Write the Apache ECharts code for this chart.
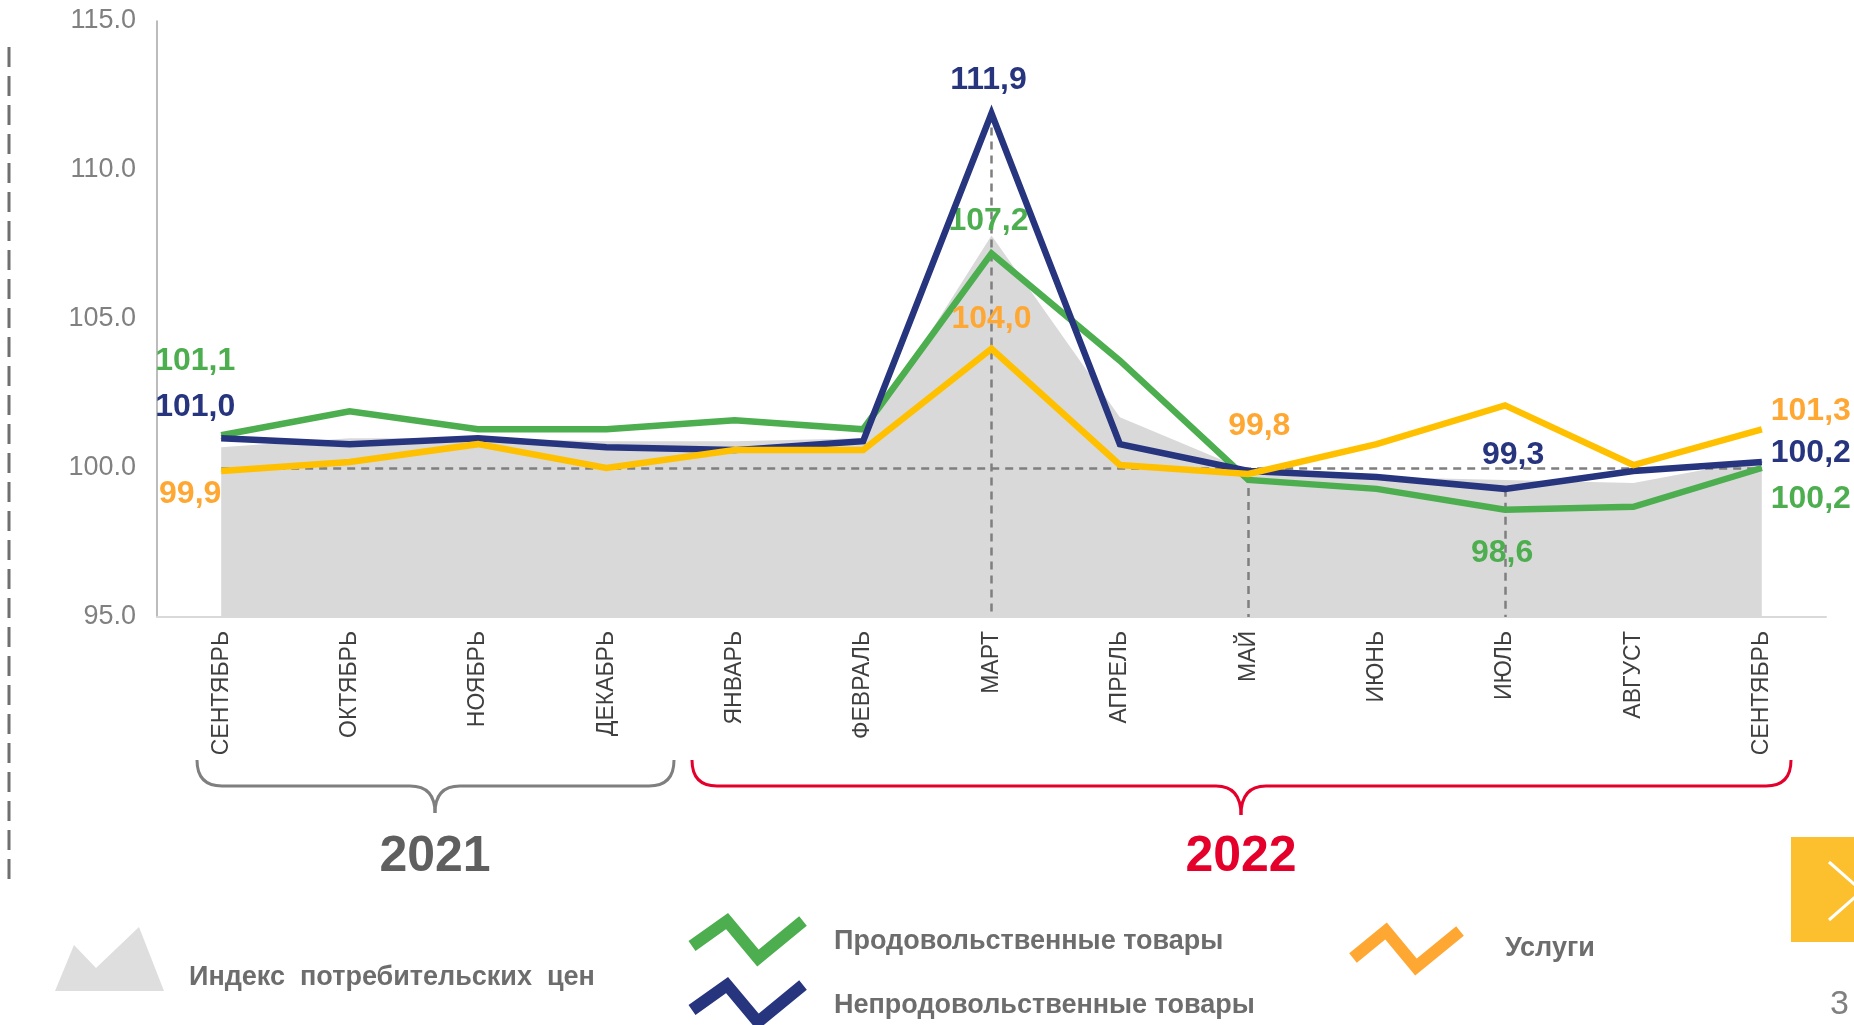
<!DOCTYPE html>
<html><head><meta charset="utf-8">
<script src="https://cdn.jsdelivr.net/npm/echarts@6/dist/echarts.min.js"></script>
<style>html,body{margin:0;padding:0;background:#fff;}#c{width:1854px;height:1025px;}</style>
</head><body><div id="c"></div>
<script>
// ---- data ----
const categories = ['СЕНТЯБРЬ','ОКТЯБРЬ','НОЯБРЬ','ДЕКАБРЬ','ЯНВАРЬ','ФЕВРАЛЬ','МАРТ','АПРЕЛЬ','МАЙ','ИЮНЬ','ИЮЛЬ','АВГУСТ','СЕНТЯБРЬ'];
const cpi      = [100.7, 101.0, 101.0, 100.9, 100.9, 101.0, 107.8, 101.7, 99.9, 99.7, 99.6, 99.5, 100.3];
const food     = [101.1, 101.9, 101.3, 101.3, 101.6, 101.3, 107.2, 103.6, 99.6, 99.3, 98.6, 98.7, 100.0];
const nonFood  = [101.0, 100.8, 101.0, 100.7, 100.6, 100.9, 111.9, 100.8, 99.9, 99.7, 99.3, 99.9, 100.2];
const services = [ 99.9, 100.2, 100.8, 100.0, 100.6, 100.6, 104.0, 100.1, 99.8, 100.8, 102.1, 100.1, 101.3];
const foodLabels     = {0:'101,1', 6:'107,2', 10:'98,6', 12:'100,2'};
const nonFoodLabels  = {0:'101,0', 6:'111,9', 10:'99,3', 12:'100,2'};
const servicesLabels = {0:'99,9', 6:'104,0', 8:'99,8', 12:'101,3'};
const yMin = 95, yMax = 115, yStep = 5;
const years = ['2021', '2022'];
const legendNames = ['Индекс  потребительских  цен', 'Продовольственные товары', 'Непродовольственные товары', 'Услуги'];
const pageNumber = '3';

// ---- styling ----
const FONT = '"Liberation Sans", Arial, sans-serif';
const C_GREEN = '#4DAE4F', C_NAVY = '#27357F', C_YELLOW = '#FFC000', C_ORANGE = '#FFA733', C_GRAY = '#D9D9D9';
const foodOff     = {0:[-26,-74], 6:[-3,-32], 10:[-3,43], 12:[49,31]};
const nonFoodOff  = {0:[-26,-31], 6:[-3,-33], 10:[8,-34], 12:[49,-9]};
const servicesOff = {0:[-31,23], 6:[0,-30], 8:[11,-48], 12:[49,-18]};

function build(values, labels, offs, color) {
  return values.map((v, i) => labels[i] ? {
    value: v,
    label: { show: true, position: 'inside', offset: offs[i], formatter: labels[i],
             color: color, fontSize: 32, fontWeight: 'bold', fontFamily: FONT }
  } : v);
}
function lineSeries(name, values, labels, offs, lineColor, labelColor, z) {
  return {
    name, type: 'line', data: build(values, labels, offs, labelColor), z,
    symbol: 'circle', symbolSize: 1, showSymbol: true,
    itemStyle: { color: lineColor },
    lineStyle: { color: lineColor, width: 6.5, join: 'miter' },
    emphasis: { disabled: true }, silent: true
  };
}
function brace(xl, xm, xr, yTop, yMid, yTip, color) {
  const r = 25, st = { stroke: color, lineWidth: 3, fill: null };
  return [
    { type: 'bezierCurve', shape: { x1: xl, y1: yTop, cpx1: xl, cpy1: yMid, x2: xl + r, y2: yMid }, style: st },
    { type: 'line', shape: { x1: xl + r, y1: yMid, x2: xm - r, y2: yMid }, style: st },
    { type: 'bezierCurve', shape: { x1: xm - r, y1: yMid, cpx1: xm, cpy1: yMid, x2: xm, y2: yTip }, style: st },
    { type: 'bezierCurve', shape: { x1: xm, y1: yTip, cpx1: xm, cpy1: yMid, x2: xm + r, y2: yMid }, style: st },
    { type: 'line', shape: { x1: xm + r, y1: yMid, x2: xr - r, y2: yMid }, style: st },
    { type: 'bezierCurve', shape: { x1: xr - r, y1: yMid, cpx1: xr, cpy1: yMid, x2: xr, y2: yTop }, style: st }
  ];
}

const chart = echarts.init(document.getElementById('c'), null, { renderer: 'canvas' });
const dash = { color: '#7F7F7F', type: [8, 6], width: 2.5 };
const LEG = 'bold 27px ' + FONT;
chart.setOption({
  animation: false,
  backgroundColor: '#fff',
  grid: { left: 157, right: 28, top: 21, bottom: 408, containLabel: false },
  xAxis: {
    type: 'category', data: categories, boundaryGap: true,
    axisLine: { lineStyle: { color: '#D9D9D9', width: 2 } },
    axisTick: { show: false },
    axisLabel: { rotate: 90, margin: 14, color: '#3F3F3F', fontSize: 23, fontFamily: FONT, interval: 0 }
  },
  yAxis: {
    type: 'value', min: yMin, max: yMax, interval: yStep,
    axisLine: { show: true, lineStyle: { color: '#A6A6A6', width: 1.5 } },
    axisTick: { show: false }, splitLine: { show: false },
    axisLabel: { margin: 21, color: '#808080', fontSize: 27, fontFamily: FONT, formatter: v => v.toFixed(1) }
  },
  series: [
    {
      name: legendNames[0], type: 'line', data: cpi, z: 1, symbol: 'none',
      lineStyle: { width: 0 }, areaStyle: { color: C_GRAY, opacity: 1 }, silent: true,
      markLine: {
        silent: true, symbol: 'none', z: 2, label: { show: false }, lineStyle: dash,
        data: [
          [{ coord: [0, 100] }, { coord: [categories.length - 1, 100] }],
          [{ coord: [6, nonFood[6]] }, { coord: [6, yMin] }],
          [{ coord: [8, services[8]] }, { coord: [8, yMin] }],
          [{ coord: [10, nonFood[10]] }, { coord: [10, yMin] }]
        ]
      }
    },
    lineSeries(legendNames[1], food, foodLabels, foodOff, C_GREEN, C_GREEN, 3),
    lineSeries(legendNames[2], nonFood, nonFoodLabels, nonFoodOff, C_NAVY, C_NAVY, 4),
    lineSeries(legendNames[3], services, servicesLabels, servicesOff, C_YELLOW, C_ORANGE, 5)
  ],
  graphic: [
    { type: 'line', shape: { x1: 9, y1: 47, x2: 9, y2: 881 }, style: { stroke: '#6F6F6F', lineWidth: 3, lineDash: [20, 9] } },
    ...brace(197, 435, 674, 760, 786, 813, '#7F7F7F'),
    ...brace(692, 1241, 1791, 760, 786, 815, '#E4002B'),
    { type: 'text', x: 435, y: 857, style: { text: years[0], fill: '#5F5F5F', font: 'bold 50px ' + FONT, textAlign: 'center', textVerticalAlign: 'middle' } },
    { type: 'text', x: 1241, y: 857, style: { text: years[1], fill: '#E4002B', font: 'bold 50px ' + FONT, textAlign: 'center', textVerticalAlign: 'middle' } },
    { type: 'polygon', shape: { points: [[55,991],[74,945],[96,968],[139,927],[164,991]] }, style: { fill: '#DEDEDE' } },
    { type: 'text', x: 189, y: 978, style: { text: legendNames[0], fill: '#6D6D6D', font: LEG, textVerticalAlign: 'middle' } },
    { type: 'polyline', shape: { points: [[692,946],[727,921],[758,958],[803,921]] }, style: { stroke: C_GREEN, lineWidth: 12, fill: null, lineJoin: 'miter' } },
    { type: 'text', x: 834, y: 942, style: { text: legendNames[1], fill: '#6D6D6D', font: LEG, textVerticalAlign: 'middle' } },
    { type: 'polyline', shape: { points: [[692,1010],[727,985],[758,1022],[803,985]] }, style: { stroke: C_NAVY, lineWidth: 12, fill: null, lineJoin: 'miter' } },
    { type: 'text', x: 834, y: 1006, style: { text: legendNames[2], fill: '#6D6D6D', font: LEG, textVerticalAlign: 'middle' } },
    { type: 'polyline', shape: { points: [[1353,958],[1386,931],[1416,967],[1460,931]] }, style: { stroke: C_ORANGE, lineWidth: 12, fill: null, lineJoin: 'miter' } },
    { type: 'text', x: 1505, y: 949, style: { text: legendNames[3], fill: '#6D6D6D', font: LEG, textVerticalAlign: 'middle' } },
    { type: 'rect', shape: { x: 1791, y: 837, width: 63, height: 105 }, style: { fill: '#FCC02F' } },
    { type: 'polyline', shape: { points: [[1829,862],[1862,891],[1829,920]] }, style: { stroke: '#fff', lineWidth: 3, fill: null } },
    { type: 'text', x: 1830, y: 1005, style: { text: pageNumber, fill: '#808080', font: '34px ' + FONT, textVerticalAlign: 'middle' } }
  ]
});
</script></body></html>
